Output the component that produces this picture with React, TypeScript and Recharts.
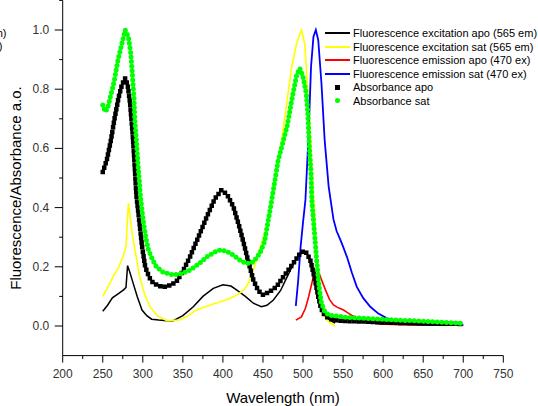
import React from 'react';
import { LineChart, Line, XAxis, YAxis, Legend } from 'recharts';

// wavelengths (nm) and values, one pair of arrays per series
const excApoNm = [250, 256, 262, 270, 276, 279, 281, 284, 288, 293, 299, 305, 311, 320, 330, 338, 350, 363, 375, 388, 400, 410, 417, 428, 438, 448, 455, 463, 472, 480, 488, 495, 501, 506, 511, 516, 520, 525, 530, 540];
const excApoVal = [0.05, 0.07, 0.095, 0.11, 0.122, 0.13, 0.204, 0.18, 0.144, 0.1, 0.054, 0.035, 0.023, 0.02, 0.018, 0.018, 0.035, 0.065, 0.1, 0.127, 0.139, 0.135, 0.122, 0.1, 0.077, 0.065, 0.07, 0.088, 0.12, 0.165, 0.21, 0.24, 0.25, 0.24, 0.2, 0.13, 0.08, 0.045, 0.025, 0.01];

const excSatNm = [250, 257, 263, 270, 276, 279, 282, 285, 288, 292, 296, 302, 309, 318, 330, 346, 357, 367, 378, 388, 399, 409, 418, 426, 432, 438, 446, 455, 463, 471, 476, 481, 486, 492, 498, 502, 506, 509, 511, 514, 517, 521, 524, 528, 534, 540];
const excSatVal = [0.1, 0.135, 0.167, 0.2, 0.24, 0.268, 0.415, 0.35, 0.29, 0.23, 0.167, 0.11, 0.065, 0.035, 0.018, 0.02, 0.035, 0.054, 0.065, 0.074, 0.084, 0.094, 0.105, 0.122, 0.145, 0.189, 0.26, 0.335, 0.46, 0.58, 0.68, 0.78, 0.876, 0.955, 1.0, 0.955, 0.8, 0.651, 0.538, 0.403, 0.234, 0.099, 0.05, 0.026, 0.01, 0.0];

const emApoNm = [491, 498, 503, 507, 513, 516, 520, 524, 528, 533, 538, 543, 547, 551, 555, 561, 567, 574, 580, 596, 620, 660, 700];
const emApoVal = [0.02, 0.031, 0.06, 0.099, 0.167, 0.189, 0.178, 0.15, 0.122, 0.09, 0.071, 0.063, 0.058, 0.053, 0.046, 0.036, 0.026, 0.019, 0.014, 0.007, 0.004, 0.003, 0.003];

const emSatNm = [491, 494, 497, 500, 503, 507, 510, 513, 516, 519, 523, 527, 532, 538, 542, 546, 550, 555, 561, 567, 575, 584, 594, 605, 620, 638, 660, 700];
const emSatVal = [0.068, 0.155, 0.268, 0.35, 0.426, 0.651, 0.876, 0.977, 1.0, 0.966, 0.82, 0.628, 0.471, 0.36, 0.32, 0.295, 0.268, 0.232, 0.18, 0.133, 0.095, 0.065, 0.042, 0.026, 0.013, 0.007, 0.005, 0.003];

const absApoNm = [250, 255, 260, 265, 270, 274, 278, 281, 284, 287, 289, 292, 296, 299, 303, 308, 313, 320, 326, 335, 342, 350, 359, 370, 380, 390, 398, 405, 413, 420, 426, 432, 438, 444, 450, 458, 467, 475, 482, 488, 495, 501, 505, 509, 512, 515, 519, 522, 525, 530, 538, 550, 575, 600, 638, 670, 700];
const absApoVal = [0.52, 0.56, 0.625, 0.705, 0.775, 0.815, 0.837, 0.815, 0.755, 0.66, 0.58, 0.44, 0.345, 0.27, 0.2, 0.165, 0.145, 0.135, 0.132, 0.138, 0.15, 0.185, 0.234, 0.305, 0.37, 0.43, 0.459, 0.445, 0.403, 0.34, 0.279, 0.215, 0.155, 0.12, 0.105, 0.115, 0.133, 0.165, 0.19, 0.212, 0.24, 0.254, 0.245, 0.223, 0.19, 0.155, 0.099, 0.065, 0.043, 0.03, 0.02, 0.017, 0.015, 0.012, 0.009, 0.008, 0.007];

const absSatNm = [250, 253, 256, 259, 262, 265, 269, 274, 278, 282, 285, 287, 289, 290, 292, 294, 296, 297, 299, 301, 304, 307, 312, 317, 325, 338, 350, 359, 370, 380, 390, 397, 405, 413, 420, 428, 434, 438, 446, 452, 460, 469, 480, 486, 492, 496, 500, 504, 506, 508, 510, 511, 514, 516, 517, 520, 523, 527, 532, 555, 596, 658, 700];
const absSatVal = [0.747, 0.724, 0.735, 0.769, 0.8, 0.837, 0.899, 0.955, 1.0, 0.977, 0.921, 0.848, 0.769, 0.696, 0.628, 0.544, 0.48, 0.44, 0.39, 0.347, 0.295, 0.257, 0.225, 0.2, 0.182, 0.172, 0.178, 0.189, 0.21, 0.234, 0.25, 0.257, 0.252, 0.24, 0.225, 0.212, 0.212, 0.217, 0.245, 0.285, 0.41, 0.56, 0.673, 0.764, 0.848, 0.871, 0.842, 0.786, 0.719, 0.6, 0.516, 0.426, 0.324, 0.257, 0.223, 0.133, 0.077, 0.05, 0.037, 0.029, 0.023, 0.015, 0.009];

const xTicks = [200, 225, 250, 275, 300, 325, 350, 375, 400, 425, 450, 475, 500, 525, 550, 575, 600, 625, 650, 675, 700, 725, 750];
const yTicks = [0, 0.1, 0.2, 0.3, 0.4, 0.5, 0.6, 0.7, 0.8, 0.9, 1.0, 1.1];

const legendItems = [
  { label: 'Fluorescence excitation apo (565 em)', color: '#000000', kind: 'line' },
  { label: 'Fluorescence excitation sat (565 em)', color: '#ffff00', kind: 'line' },
  { label: 'Fluorescence emission apo (470 ex)', color: '#ff0000', kind: 'line' },
  { label: 'Fluorescence emission sat (470 ex)', color: '#0000ff', kind: 'line' },
  { label: 'Absorbance apo', color: '#000000', kind: 'square' },
  { label: 'Absorbance sat', color: '#00ff00', kind: 'circle' },
];

const pts = (nm: number[], val: number[]) => nm.map((x, i) => ({ x, y: val[i] }));

const FONT = '"Liberation Sans", Arial, sans-serif';

const XTick = ({ x, y, payload }: any) => {
  const v = payload.value;
  const major = v % 50 === 0;
  return (
    <g>
      <line x1={x} y1={y} x2={x} y2={y + (major ? 7 : 3.5)} stroke="#000" />
      {major && (
        <text x={x} y={y + 22} textAnchor="middle" fontSize={12} fill="#333" fontFamily={FONT}>
          {v}
        </text>
      )}
    </g>
  );
};

const YTick = ({ x, y, payload }: any) => {
  const v = payload.value;
  const k = Math.round(v * 10);
  const major = k % 2 === 0 && k <= 10;
  return (
    <g>
      <line x1={x} y1={y} x2={x - (major ? 8 : 3.5)} y2={y} stroke="#000" />
      {major && (
        <text x={x - 13.5} y={y + 4} textAnchor="end" fontSize={12} fill="#333" fontFamily={FONT}>
          {v.toFixed(1)}
        </text>
      )}
    </g>
  );
};

const LegendBox = () => (
  <div style={{ fontFamily: FONT, fontSize: 11, color: '#000' }}>
    {legendItems.map((it) => (
      <div key={it.label} style={{ display: 'flex', alignItems: 'center', height: 13.5, whiteSpace: 'nowrap' }}>
        <div style={{ width: 25, display: 'flex', justifyContent: 'center', alignItems: 'center' }}>
          {it.kind === 'line' && <div style={{ width: 25, height: 2, background: it.color }} />}
          {it.kind === 'square' && <div style={{ width: 5, height: 5, background: it.color }} />}
          {it.kind === 'circle' && <div style={{ width: 5, height: 5, borderRadius: 3, background: it.color }} />}
        </div>
        <span style={{ marginLeft: 3 }}>{it.label}</span>
      </div>
    ))}
  </div>
);

export default function App() {
  return (
    <div style={{ position: 'absolute', left: 0, top: 0, width: 538, height: 406, background: '#fff', overflow: 'hidden' }}>
      {/* clipped fragments of text at the left edge, as in the reference */}
      <div style={{ position: 'absolute', left: -50, width: 56.5, top: 26.5, textAlign: 'right', fontFamily: FONT, fontSize: 11 }}>em)</div>
      <div style={{ position: 'absolute', left: -50, width: 52.5, top: 40, textAlign: 'right', fontFamily: FONT, fontSize: 11 }}>em)</div>
      <LineChart width={538} height={406} margin={{ top: 0.4, right: 34.7, bottom: 0, left: 0 }}>
        <XAxis
          dataKey="x"
          type="number"
          domain={[200, 750]}
          ticks={xTicks}
          interval={0}
          height={50.4}
          stroke="#000"
          tickSize={0}
          tickMargin={0}
          tick={<XTick />}
          allowDataOverflow
          label={{
            content: () => (
              <text x={283} y={397} textAnchor="middle" dominantBaseline="central" fontSize={15} fill="#000" fontFamily={FONT}>
                Wavelength (nm)
              </text>
            ),
          }}
        />
        <YAxis
          type="number"
          domain={[-0.1, 1.1]}
          ticks={yTicks}
          interval={0}
          width={62.7}
          stroke="#000"
          tickSize={0}
          tickMargin={0}
          tick={<YTick />}
          allowDataOverflow
          label={{
            content: () => (
              <text x={15} y={188} transform="rotate(-90 15 188)" textAnchor="middle" dominantBaseline="central" fontSize={15} fill="#000" fontFamily={FONT}>
                Fluorescence/Absorbance a.o.
              </text>
            ),
          }}
        />
        <Legend
          layout="vertical"
          align="center"
          verticalAlign="middle"
          content={() => <LegendBox />}
          wrapperStyle={{ position: 'absolute', left: 325, top: 26.5, width: 215, height: 85 }}
        />
        <Line data={pts(excApoNm, excApoVal)} dataKey="y" type="linear" stroke="#000000" strokeWidth={1.5} dot={false} isAnimationActive={false} />
        <Line data={pts(excSatNm, excSatVal)} dataKey="y" type="linear" stroke="#ffff00" strokeWidth={1.6} dot={false} isAnimationActive={false} />
        <Line data={pts(emApoNm, emApoVal)} dataKey="y" type="linear" stroke="#ff0000" strokeWidth={1.6} dot={false} isAnimationActive={false} />
        <Line data={pts(emSatNm, emSatVal)} dataKey="y" type="linear" stroke="#0000ff" strokeWidth={1.8} dot={false} isAnimationActive={false} />
        <Line data={pts(absApoNm, absApoVal)} dataKey="y" type="linear" stroke="#000000" strokeWidth={4.5} strokeDasharray="0 4.6" strokeLinecap="square" dot={false} isAnimationActive={false} />
        <Line data={pts(absSatNm, absSatVal)} dataKey="y" type="linear" stroke="#00ff00" strokeWidth={5} strokeDasharray="0 4.6" strokeLinecap="round" dot={false} isAnimationActive={false} />
      </LineChart>
    </div>
  );
}
